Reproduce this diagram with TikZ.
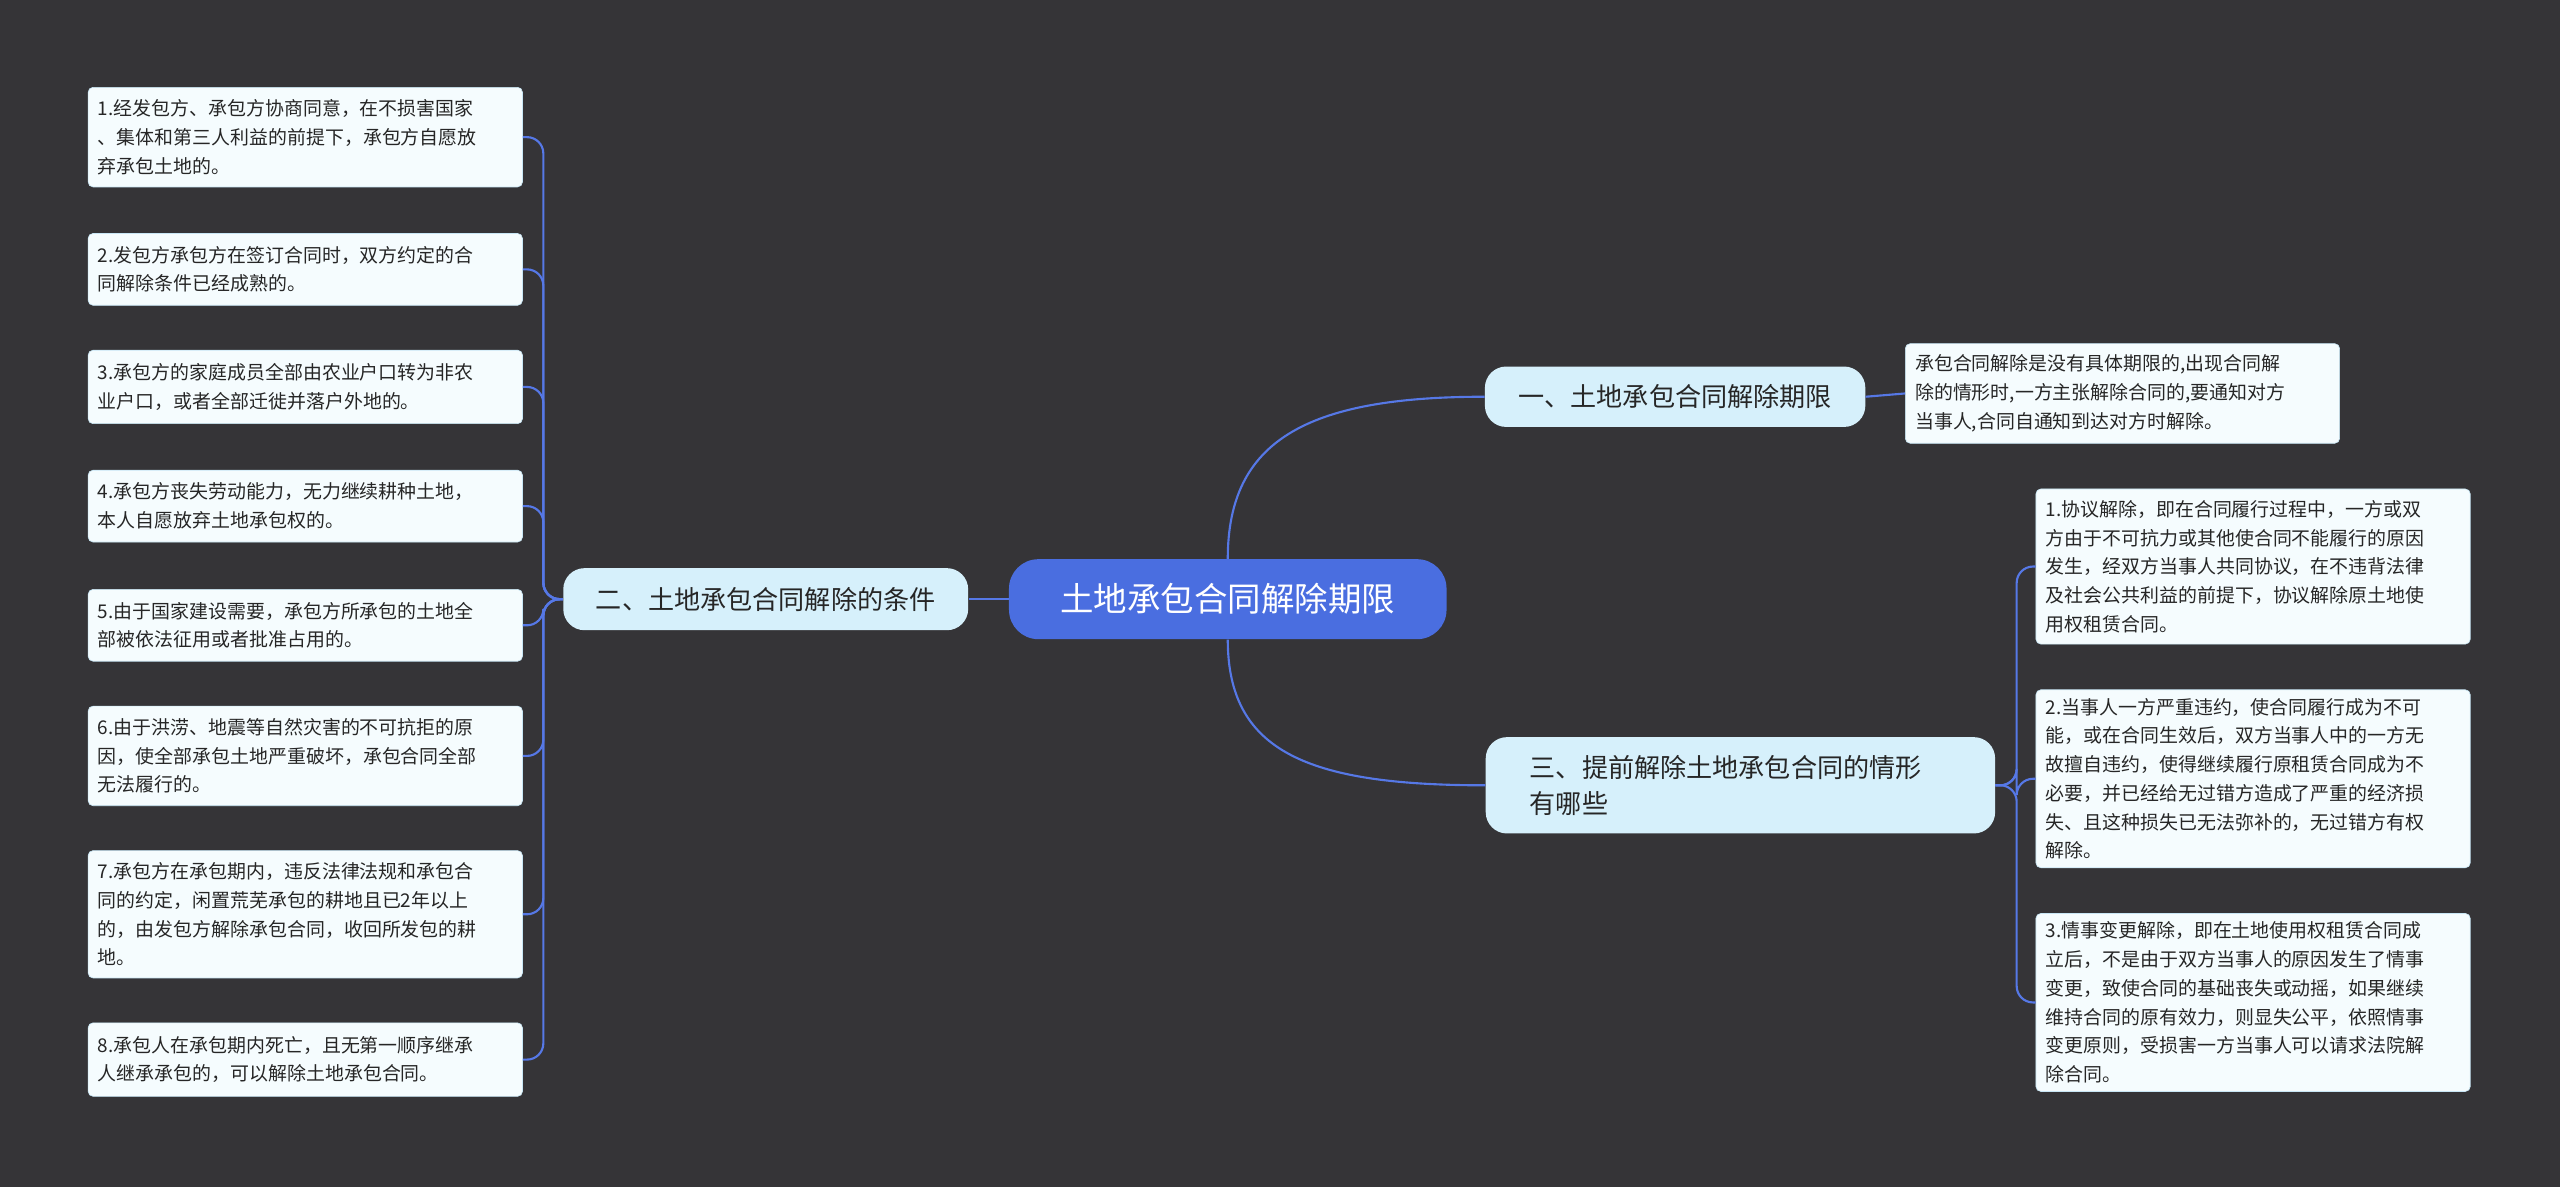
\documentclass[tikz,border=0pt]{standalone}
\usepackage{fontspec}
\setmainfont{Noto Sans CJK SC}
\begin{document}
\begin{tikzpicture}[x=1pt,y=-1pt,
 br/.style={fill=brc,rounded corners=13,font=\fontsize{16}{22}\selectfont,text=black!85,inner xsep=14,inner ysep=5},
 ln/.style={draw=lnc,line width=1.3},
]
\definecolor{bg}{RGB}{53,52,55}
\definecolor{brc}{RGB}{214,240,251}
\definecolor{lnc}{RGB}{86,120,230}
\definecolor{ctr}{RGB}{74,110,224}
\definecolor{c}{RGB}{200,230,245}
\fill[bg] (0,0) rectangle (1568,727);
\useasboundingbox (0,0) rectangle (1568,727);
\tikzset{leaf/.style={draw=c,fill=white!96!cyan,rounded corners=3,minimum width=266,text width=254,align=left,inner xsep=6,inner ysep=2,font=\fontsize{11.6}{17.6}\selectfont,text=black!85}}
\node[fill=ctr,rounded corners=18,minimum width=268,minimum height=49,text=white,font=\fontsize{20.5}{24}\selectfont] (c) at (752,367) {土地承包合同解除期限};
\node[br,minimum width=233,minimum height=37] (b1) at (1026,243) {一、土地承包合同解除期限};
\node[br,minimum width=248,minimum height=38] (b2) at (469,367) {二、土地承包合同解除的条件};
\node[br,minimum width=312,minimum height=59,align=left,text width=258] (b3) at (1066,481) {三、提前解除土地承包合同的情形\\有哪些};
\node[leaf,minimum height=61] (l1) at (187,84) {1.经发包方、承包方协商同意，在不损害国家\\、集体和第三人利益的前提下，承包方自愿放\\弃承包土地的。};
\node[leaf,minimum height=44] (l2) at (187,165) {2.发包方承包方在签订合同时，双方约定的合\\同解除条件已经成熟的。};
\node[leaf,minimum height=45] (l3) at (187,237) {3.承包方的家庭成员全部由农业户口转为非农\\业户口，或者全部迁徙并落户外地的。};
\node[leaf,minimum height=44] (l4) at (187,310) {4.承包方丧失劳动能力，无力继续耕种土地，\\本人自愿放弃土地承包权的。};
\node[leaf,minimum height=44] (l5) at (187,383) {5.由于国家建设需要，承包方所承包的土地全\\部被依法征用或者批准占用的。};
\node[leaf,minimum height=61] (l6) at (187,463) {6.由于洪涝、地震等自然灾害的不可抗拒的原\\因，使全部承包土地严重破坏，承包合同全部\\无法履行的。};
\node[leaf,minimum height=78] (l7) at (187,560) {7.承包方在承包期内，违反法律法规和承包合\\同的约定，闲置荒芜承包的耕地且已2年以上\\的，由发包方解除承包合同，收回所发包的耕\\地。};
\node[leaf,minimum height=45] (l8) at (187,649) {8.承包人在承包期内死亡，且无第一顺序继承\\人继承承包的，可以解除土地承包合同。};
\node[leaf,minimum height=61] (r1) at (1300,241) {承包合同解除是没有具体期限的,出现合同解\\除的情形时,一方主张解除合同的,要通知对方\\当事人,合同自通知到达对方时解除。};
\node[leaf,minimum height=95] (r2) at (1380,347) {1.协议解除，即在合同履行过程中，一方或双\\方由于不可抗力或其他使合同不能履行的原因\\发生，经双方当事人共同协议，在不违背法律\\及社会公共利益的前提下，协议解除原土地使\\用权租赁合同。};
\node[leaf,minimum height=109] (r3) at (1380,477) {2.当事人一方严重违约，使合同履行成为不可\\能，或在合同生效后，双方当事人中的一方无\\故擅自违约，使得继续履行原租赁合同成为不\\必要，并已经给无过错方造成了严重的经济损\\失、且这种损失已无法弥补的，无过错方有权\\解除。};
\node[leaf,minimum height=109] (r4) at (1380,614) {3.情事变更解除，即在土地使用权租赁合同成\\立后，不是由于双方当事人的原因发生了情事\\变更，致使合同的基础丧失或动摇，如果继续\\维持合同的原有效力，则显失公平，依照情事\\变更原则，受损害一方当事人可以请求法院解\\除合同。};
\draw[ln] (c.north) .. controls (752,270) and (800,243) .. (b1.west);
\draw[ln] (c.south) .. controls (752,460) and (800,481) .. (b3.west);
\draw[ln] (c.west) -- (b2.east);
\draw[ln] (b1.east) -- (r1.west);
\foreach \n in {l1,l2,l3,l4,l5,l6,l7,l8}
  \draw[ln,rounded corners=10] (b2.west) -- ++(-12,0) |- (\n.east);
\foreach \n in {r2,r3,r4}
  \draw[ln,rounded corners=10] (b3.east) -- ++(13,0) |- (\n.west);
\end{tikzpicture}
\end{document}
